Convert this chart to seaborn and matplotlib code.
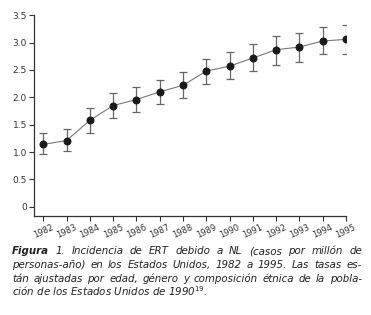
import matplotlib
matplotlib.use("Agg")
import matplotlib.pyplot as plt
import seaborn as sns
import pandas as pd
import numpy as np

years = [1982, 1983, 1984, 1985, 1986, 1987, 1988, 1989, 1990, 1991, 1992, 1993, 1994, 1995]
rate = [1.14, 1.21, 1.58, 1.85, 1.96, 2.10, 2.22, 2.48, 2.57, 2.72, 2.87, 2.92, 3.03, 3.06]
upper = [1.35, 1.42, 1.80, 2.08, 2.18, 2.32, 2.46, 2.71, 2.82, 2.97, 3.13, 3.17, 3.28, 3.33]
lower = [0.96, 1.01, 1.35, 1.62, 1.73, 1.87, 1.99, 2.24, 2.33, 2.48, 2.60, 2.64, 2.79, 2.79]
yticks = [0, 0.5, 1.0, 1.5, 2.0, 2.5, 3.0, 3.5]
ytick_labels = ["0", "0.5", "1.0", "1.5", "2.0", "2.5", "3.0", "3.5"]
caption_lines = [
    ["Figura", "1.", "Incidencia", "de", "ERT", "debido", "a", "NL", "(casos", "por", "millón", "de"],
    ["personas-año)", "en", "los", "Estados", "Unidos,", "1982", "a", "1995.", "Las", "tasas", "es-"],
    ["tán", "ajustadas", "por", "edad,", "género", "y", "composición", "étnica", "de", "la", "pobla-"],
]
caption_last = "ción de los Estados Unidos de 1990$^{19}$."

sns.set_style("white")
plt.rcParams["font.family"] = ["DejaVu Sans"]

df = pd.DataFrame({"year": years, "rate": rate, "upper": upper, "lower": lower})

fig = plt.figure(figsize=(3.71, 3.15), dpi=100)
ax = fig.add_axes([34 / 371, 1 - 216 / 315, 312 / 371, (216 - 15.3) / 315])

lo = df["rate"] - df["lower"]
hi = df["upper"] - df["rate"]
ax.errorbar(df["year"], df["rate"], yerr=[lo, hi], fmt="none", ecolor="#666666",
            elinewidth=0.9, capsize=2.9, capthick=0.9, zorder=2)
sns.lineplot(data=df, x="year", y="rate", ax=ax, color="#777777", linewidth=0.8,
             marker="o", markersize=5, markerfacecolor="#1a1a1a",
             markeredgecolor="#1a1a1a", zorder=3)

ax.set_xlim(1981.6, 1995)
ax.set_ylim(-0.17, 3.5)
ax.set_xticks(years)
ax.set_xticklabels([str(y) for y in years], rotation=25, ha="center",
                   fontsize=6.0, color="#333333")
ax.set_yticks(yticks)
ax.set_yticklabels(ytick_labels, fontsize=6.5, color="#333333")
ax.set_xlabel("")
ax.set_ylabel("")
ax.tick_params(axis="both", direction="out", length=3.5, width=0.8, color="#333333",
               left=True, bottom=True, pad=1.5)
sns.despine(ax=ax)
for s in ["left", "bottom"]:
    ax.spines[s].set_color("#333333")
    ax.spines[s].set_linewidth(0.9)

# justified caption
fs = 7.4
x0, x1 = 12 / 371, 362 / 371
ys = [1 - 254 / 315, 1 - 268 / 315, 1 - 282 / 315, 1 - 296 / 315]
fig.canvas.draw()
renderer = fig.canvas.get_renderer()
for li, words in enumerate(caption_lines):
    texts = []
    for wi, w in enumerate(words):
        bold = (li == 0 and wi == 0)
        t = fig.text(0, ys[li], w, fontsize=fs, style="italic", color="#222222",
                     weight="bold" if bold else "normal", va="baseline")
        texts.append(t)
    widths = [t.get_window_extent(renderer).width / fig.bbox.width for t in texts]
    gap = ((x1 - x0) - sum(widths)) / (len(words) - 1)
    xx = x0
    for t, w in zip(texts, widths):
        t.set_x(xx)
        xx += w + gap
fig.text(x0, ys[3], caption_last, fontsize=fs, style="italic", color="#222222", va="baseline")

fig.savefig("out.png", dpi=100)
